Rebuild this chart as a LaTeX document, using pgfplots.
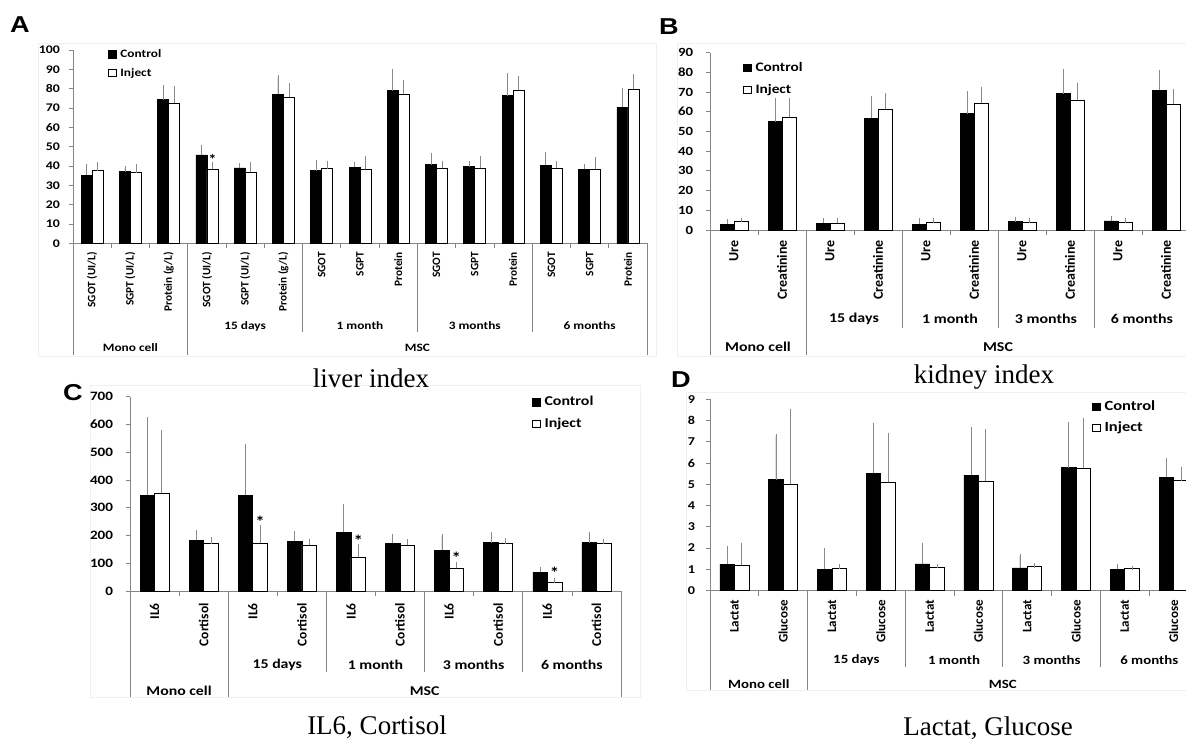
\documentclass[border=0pt]{standalone}
\usepackage{fontspec}
\setmainfont{Carlito}
\newfontfamily\cf[FakeStretch=1.18]{Carlito}
\newfontfamily\capfont{Liberation Serif}
\newfontfamily\letfont[FakeStretch=1.18]{Liberation Sans}
\usepackage{pgfplots}
\pgfplotsset{compat=1.18}
\usepackage{pgfplotstable}

\definecolor{axgray}{HTML}{858585}
\definecolor{errgray}{HTML}{8A8A8A}
\definecolor{framegray}{HTML}{F0F0F0}

% stretched bold (horizontal text) and plain bold (rotated text)
\newcommand{\fs}[1]{\cf\bfseries\fontsize{#1}{#1}\selectfont}
\newcommand{\fr}[1]{\bfseries\fontsize{#1}{#1}\selectfont}

% liver index: control, control error, inject, inject error
\pgfplotstableread{
x c ce i ie
0 35.3 4.7 37.6 3.3
1 37.1 1.5 36.6 3.1
2 74.3 6.4 72.6 7.6
3 45.7 4.0 38.3 2.7
4 39.0 1.3 36.9 4.1
5 77.2 8.7 75.5 6.2
6 37.6 4.5 38.6 2.8
7 39.3 1.7 38.3 5.5
8 79.0 9.8 77.2 6.2
9 40.7 4.6 38.8 2.6
10 39.7 1.7 38.8 5.3
11 76.4 10.5 79.3 6.0
12 40.3 5.6 38.8 2.6
13 38.3 1.4 38.3 5.3
14 70.5 8.8 79.8 6.5
}\dataA

% kidney index
\pgfplotstableread{
x c ce i ie
0 3.0 1.6 4.2 0.9
1 54.9 11.0 57.2 8.8
2 3.4 1.3 3.5 1.2
3 56.7 10.3 61.1 7.3
4 3.0 1.7 3.9 0.8
5 58.9 10.2 64.2 7.2
6 4.2 1.4 3.7 1.0
7 69.1 11.3 65.7 7.8
8 4.6 1.1 3.7 1.2
9 70.9 9.1 63.8 6.6
}\dataB

% IL6, Cortisol
\pgfplotstableread{
x c ce i ie
0 344.6 274.9 353.0 218.5
1 182.5 28.8 170.5 15.6
2 344.6 176.4 171.7 57.6
3 180.0 27.7 165.7 12.0
4 211.3 92.5 121.3 38.4
5 171.7 26.4 165.7 12.0
6 147.7 50.3 81.6 15.6
7 174.0 31.3 170.5 10.8
8 67.2 12.0 30.0 7.2
9 174.0 31.0 170.0 10.0
}\dataC

% Lactat, Glucose
\pgfplotstableread{
x c ce i ie
0 1.24 0.76 1.19 0.94
1 5.21 2.04 5.02 3.42
2 0.99 0.90 1.02 0.11
3 5.51 2.25 5.09 2.22
4 1.25 0.88 1.11 0.05
5 5.43 2.18 5.15 2.33
6 1.06 0.57 1.13 0.06
7 5.79 2.02 5.76 2.27
8 1.00 0.13 1.03 0.03
9 5.34 0.81 5.17 0.54
}\dataD

\pgfplotsset{
  panel/.style={
    scale only axis, clip=false, ybar=0pt, ymin=0,
    axis x line*=bottom, axis y line*=left,
    axis line style={-, draw=axgray, line width=0.8pt},
    xtick=\empty,
    tick align=outside, major tick length=4.5pt,
    ytick style={draw=axgray, line width=0.8pt},
    /pgf/number format/assume math mode=true,
    yticklabel style={font=\fs{#1}, text=black},
    legend cell align=left,
    legend style={draw=none, fill=none, inner sep=0pt,
      nodes={inner sep=1.5pt, text height=0.8em, text depth=0.16em},
      /tikz/every odd column/.append style={column sep=2pt}},
    legend image code/.code={\draw[##1, line width=0.7pt] (0pt,-3.7pt) rectangle (8pt,3.7pt);},
  },
  ctl/.style={draw=black, fill=black, line width=0.7pt,
    error bars/.cd, y dir=plus, y explicit,
    error bar style={draw=errgray, line width=0.7pt},
    error mark options={draw=errgray, line width=0.7pt, mark size=2.3pt}},
  inj/.style={draw=black, fill=white, line width=0.7pt,
    error bars/.cd, y dir=plus, y explicit,
    error bar style={draw=errgray, line width=0.7pt},
    error mark options={draw=errgray, line width=0.7pt, mark size=2.3pt}},
}

% category label: x, text, offset below axis (pt), font size
\newcommand{\clab}[4]{\node[rotate=90, anchor=east, inner sep=0pt, font=\fr{#4}] at ([yshift=-#3pt]axis cs:#1,0) {#2};}
% group label: x, text, offset, size
\newcommand{\glab}[4]{\node[anchor=center, inner sep=0pt, font=\fs{#4}] at ([yshift=-#3pt]axis cs:#1,0) {#2};}
% separator line: x, length
\newcommand{\sep}[2]{\draw[axgray, line width=0.8pt] (axis cs:#1,0) -- ([yshift=-#2pt]axis cs:#1,0);}

\begin{document}
\begin{tikzpicture}
\path[use as bounding box] (0pt,0pt) rectangle (1186pt,740pt);
\fill[white] (0pt,0pt) rectangle (1186pt,740pt);
% faint chart frames
\draw[framegray, line width=0.8pt] (38pt,697pt) rectangle (656pt,384pt);
\draw[framegray, line width=0.8pt] (677pt,697pt) rectangle (1190pt,384pt);
\draw[framegray, line width=0.8pt] (90pt,355pt) rectangle (640pt,43pt);
\draw[framegray, line width=0.8pt] (686pt,348pt) rectangle (1190pt,50pt);

% ---------------- A ----------------
\begin{axis}[panel=11.7, at={(73pt,496.7pt)}, anchor=south west,
  width=574pt, height=193.3pt, xmin=-0.5, xmax=14.5, ymax=100,
  ytick={0,10,...,100}, bar width=11pt,
  yticklabel style={xshift=-5pt},
  legend style={at={(0.061,0.930)}, anchor=west, font=\fs{11.3}, row sep=6pt}]
\addplot[ctl] table[x=x, y=c, y error=ce] {\dataA};
\addplot[inj] table[x=x, y=i, y error=ie] {\dataA};
\legend{Control, Inject}
\pgfplotsinvokeforeach{0.5,1.5,3.5,4.5,6.5,7.5,9.5,10.5,12.5,13.5}{\sep{#1}{5}}
\sep{-0.5}{111.7}\sep{2.5}{111.7}\sep{14.5}{111.7}
\sep{5.5}{88.7}\sep{8.5}{88.7}\sep{11.5}{88.7}
\clab{0}{SGOT (UI/L)}{8.7}{11.3}\clab{1}{SGPT (UI/L)}{8.7}{11.3}\clab{2}{Protein (g/L)}{8.7}{11.3}
\clab{3}{SGOT (UI/L)}{8.7}{11.3}\clab{4}{SGPT (UI/L)}{8.7}{11.3}\clab{5}{Protein (g/L)}{8.7}{11.3}
\clab{6}{SGOT}{8.7}{11.3}\clab{7}{SGPT}{8.7}{11.3}\clab{8}{Protein}{8.7}{11.3}
\clab{9}{SGOT}{8.7}{11.3}\clab{10}{SGPT}{8.7}{11.3}\clab{11}{Protein}{8.7}{11.3}
\clab{12}{SGOT}{8.7}{11.3}\clab{13}{SGPT}{8.7}{11.3}\clab{14}{Protein}{8.7}{11.3}
\glab{4}{15 days}{82.7}{11.3}\glab{7}{1 month}{82.7}{11.3}
\glab{10}{3 months}{82.7}{11.3}\glab{13}{6 months}{82.7}{11.3}
\glab{1}{Mono cell}{104.7}{11.3}\glab{8.5}{MSC}{104.7}{11.3}
\node[font=\fs{14}, inner sep=0pt] at (axis cs:3.144,43.6) {*};
\end{axis}

% ---------------- B ----------------
\begin{axis}[panel=12.5, at={(710pt,510pt)}, anchor=south west,
  width=480pt, height=177.5pt, xmin=-0.5, xmax=9.5, ymax=90,
  ytick={0,10,...,90}, bar width=14pt,
  yticklabel style={xshift=-9pt},
  legend style={at={(0.069,0.851)}, anchor=west, font=\fs{13}, row sep=9.5pt}]
\addplot[ctl] table[x=x, y=c, y error=ce] {\dataB};
\addplot[inj] table[x=x, y=i, y error=ie] {\dataB};
\legend{Control, Inject}
\pgfplotsinvokeforeach{0.5,2.5,4.5,6.5,8.5}{\sep{#1}{5}}
\sep{-0.5}{125}\sep{1.5}{125}\sep{9.5}{125}
\sep{3.5}{98}\sep{5.5}{98}\sep{7.5}{98}
\clab{0}{Ure}{10}{14}\clab{1}{Creatinine}{10}{14}
\clab{2}{Ure}{10}{14}\clab{3}{Creatinine}{10}{14}
\clab{4}{Ure}{10}{14}\clab{5}{Creatinine}{10}{14}
\clab{6}{Ure}{10}{14}\clab{7}{Creatinine}{10}{14}
\clab{8}{Ure}{10}{14}\clab{9}{Creatinine}{10}{14}
\glab{2.5}{15 days}{89}{13.5}\glab{4.5}{1 month}{89}{13.5}
\glab{6.5}{3 months}{89}{13.5}\glab{8.5}{6 months}{89}{13.5}
\glab{0.5}{Mono cell}{117}{13.5}\glab{5.5}{MSC}{117}{13.5}
\end{axis}

% ---------------- C ----------------
\begin{axis}[panel=12.8, at={(130pt,149pt)}, anchor=south west,
  width=491pt, height=194.3pt, xmin=-0.5, xmax=9.5, ymax=700,
  ytick={0,100,...,700}, bar width=14.5pt,
  yticklabel style={xshift=-9pt},
  legend style={at={(0.819,0.916)}, anchor=west, font=\fs{13.5}, row sep=9pt}]
\addplot[ctl] table[x=x, y=c, y error=ce] {\dataC};
\addplot[inj] table[x=x, y=i, y error=ie] {\dataC};
\legend{Control, Inject}
\pgfplotsinvokeforeach{0.5,2.5,4.5,6.5,8.5}{\sep{#1}{5}}
\sep{-0.5}{106}\sep{1.5}{106}\sep{9.5}{106}
\sep{3.5}{81}\sep{5.5}{81}\sep{7.5}{81}
\clab{0}{IL6}{12}{13.5}\clab{1}{Cortisol}{12}{13.5}
\clab{2}{IL6}{12}{13.5}\clab{3}{Cortisol}{12}{13.5}
\clab{4}{IL6}{12}{13.5}\clab{5}{Cortisol}{12}{13.5}
\clab{6}{IL6}{12}{13.5}\clab{7}{Cortisol}{12}{13.5}
\clab{8}{IL6}{12}{13.5}\clab{9}{Cortisol}{12}{13.5}
\glab{2.5}{15 days}{74}{13.4}\glab{4.5}{1 month}{74}{13.4}
\glab{6.5}{3 months}{74}{13.4}\glab{8.5}{6 months}{74}{13.4}
\glab{0.5}{Mono cell}{100}{13.4}\glab{5.5}{MSC}{100}{13.4}
\node[font=\fs{16}, inner sep=0pt] at (axis cs:2.148,250) {*};
\node[font=\fs{16}, inner sep=0pt] at (axis cs:4.148,182) {*};
\node[font=\fs{16}, inner sep=0pt] at (axis cs:6.148,118) {*};
\node[font=\fs{16}, inner sep=0pt] at (axis cs:8.148,66) {*};
\end{axis}

% ---------------- D ----------------
\begin{axis}[panel=12, at={(710pt,149.5pt)}, anchor=south west,
  width=488pt, height=191.2pt, xmin=-0.5, xmax=9.5, ymax=9,
  ytick={0,1,...,9}, bar width=14.5pt,
  yticklabel style={xshift=-7pt},
  legend style={at={(0.783,0.905)}, anchor=west, font=\fs{14}, row sep=8.5pt}]
\addplot[ctl] table[x=x, y=c, y error=ce] {\dataD};
\addplot[inj] table[x=x, y=i, y error=ie] {\dataD};
\legend{Control, Inject}
\pgfplotsinvokeforeach{0.5,2.5,4.5,6.5,8.5}{\sep{#1}{5}}
\sep{-0.5}{99.5}\sep{1.5}{99.5}\sep{9.5}{99.5}
\sep{3.5}{76.5}\sep{5.5}{76.5}\sep{7.5}{76.5}
\clab{0}{Lactat}{9.5}{13}\clab{1}{Glucose}{9.5}{13}
\clab{2}{Lactat}{9.5}{13}\clab{3}{Glucose}{9.5}{13}
\clab{4}{Lactat}{9.5}{13}\clab{5}{Glucose}{9.5}{13}
\clab{6}{Lactat}{9.5}{13}\clab{7}{Glucose}{9.5}{13}
\clab{8}{Lactat}{9.5}{13}\clab{9}{Glucose}{9.5}{13}
\glab{2.5}{15 days}{69.5}{12.6}\glab{4.5}{1 month}{69.5}{12.6}
\glab{6.5}{3 months}{69.5}{12.6}\glab{8.5}{6 months}{69.5}{12.6}
\glab{0.5}{Mono cell}{93.5}{12.6}\glab{5.5}{MSC}{93.5}{12.6}
\end{axis}

% panel letters and captions
\node[font=\letfont\bfseries\fontsize{23}{23}\selectfont, inner sep=0pt] at (20pt,715pt) {A};
\node[font=\letfont\bfseries\fontsize{23}{23}\selectfont, inner sep=0pt] at (669pt,713pt) {B};
\node[font=\letfont\bfseries\fontsize{23}{23}\selectfont, inner sep=0pt] at (73pt,347pt) {C};
\node[font=\letfont\bfseries\fontsize{23}{23}\selectfont, inner sep=0pt] at (681pt,360pt) {D};
\node[font=\capfont\fontsize{27}{27}\selectfont, inner sep=0pt] at (371pt,362pt) {liver index};
\node[font=\capfont\fontsize{27}{27}\selectfont, inner sep=0pt] at (984pt,363pt) {kidney index};
\node[font=\capfont\fontsize{27}{27}\selectfont, inner sep=0pt] at (377pt,13pt) {IL6, Cortisol};
\node[font=\capfont\fontsize{27}{27}\selectfont, inner sep=0pt] at (988pt,12pt) {Lactat, Glucose};
\end{tikzpicture}
\end{document}
